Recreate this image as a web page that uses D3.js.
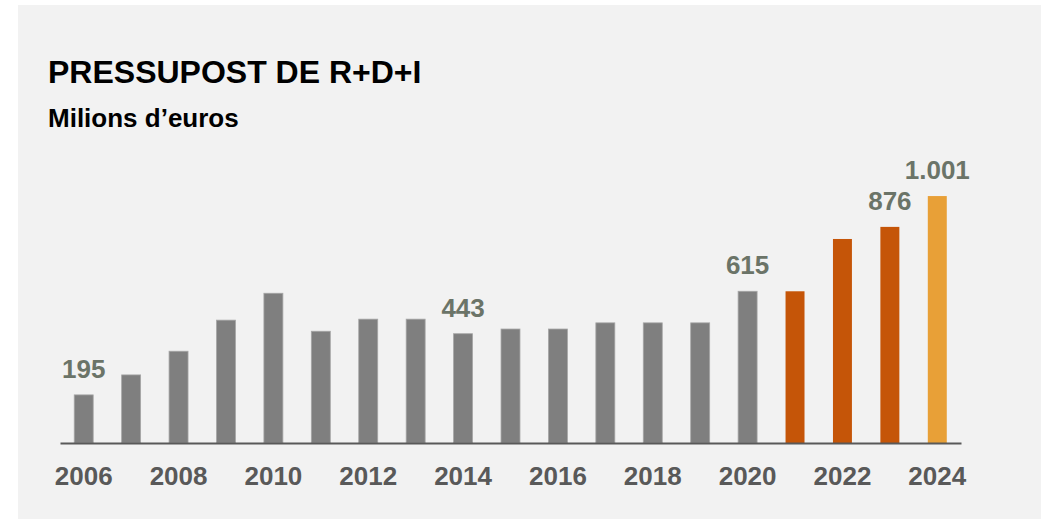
<!DOCTYPE html>
<html>
<head>
<meta charset="utf-8">
<script src="https://cdn.jsdelivr.net/npm/d3@7"></script>
<style>
  body { margin: 0; background: #fff; }
  svg text { font-family: 'Liberation Sans', Arial, sans-serif; font-weight: bold; }
</style>
</head>
<body>
<div class="chart"></div>
<script>
const years = [2006, 2007, 2008, 2009, 2010, 2011, 2012, 2013, 2014, 2015, 2016, 2017, 2018, 2019, 2020, 2021, 2022, 2023, 2024]
const values = [195, 276, 372, 498, 607, 453, 502, 502, 443, 462, 462, 487, 487, 487, 615, 615, 827, 876, 1001]
const barColors = ['#7f7f7f', '#7f7f7f', '#7f7f7f', '#7f7f7f', '#7f7f7f', '#7f7f7f', '#7f7f7f', '#7f7f7f', '#7f7f7f', '#7f7f7f',
  '#7f7f7f', '#7f7f7f', '#7f7f7f', '#7f7f7f', '#7f7f7f', '#c55508', '#c55508', '#c55508', '#e8a037']
const labelledYears = [2006, 2014, 2020, 2023, 2024]
const tickYears = [2006, 2008, 2010, 2012, 2014, 2016, 2018, 2020, 2022, 2024]

const width = 1050
const height = 521
const fmt = v => d3.format(',')(v).replace(/,/g, '.')

const dataset = years.map((y, i) => ({ year: y, value: values[i], color: barColors[i] }))

let svg = d3.select('.chart')
  .append('svg')
  .attr('width', width)
  .attr('height', height)

svg.append('rect')
  .attr('x', 18)
  .attr('y', 5)
  .attr('width', 1023)
  .attr('height', 514)
  .attr('fill', '#f2f2f2')

svg.append('text')
  .attr('x', 48)
  .attr('y', 83)
  .attr('font-size', 32)
  .attr('fill', '#000')
  .text('PRESSUPOST DE R+D+I')

svg.append('text')
  .attr('x', 48)
  .attr('y', 127)
  .attr('font-size', 26)
  .attr('fill', '#000')
  .text('Milions d\u2019euros')

let xScale = d3.scaleBand()
  .domain(years)
  .range([60, 961])
  .paddingInner(0.6)
  .paddingOuter(0.3)

let yScale = d3.scaleLinear()
  .domain([0, 1000])
  .range([443, 196.3])

svg.selectAll('.bar')
  .data(dataset)
  .enter()
  .append('rect')
  .attr('class', 'bar')
  .attr('x', d => xScale(d.year))
  .attr('y', d => yScale(d.value))
  .attr('width', xScale.bandwidth())
  .attr('height', d => yScale(0) - yScale(d.value))
  .attr('fill', d => d.color)
  .attr('stroke', d => d.color === '#7f7f7f' ? '#a6a6a6' : 'none')
  .attr('stroke-width', 0.8)

// baseline
const xAxis = d3.axisBottom(xScale)
  .tickValues(tickYears)
  .tickSize(0)
  .tickPadding(24)

let axisG = svg.append('g')
  .attr('transform', 'translate(0,' + yScale(0) + ')')
  .call(xAxis)

axisG.select('.domain')
  .attr('stroke', '#595959')
  .attr('stroke-width', 2)

axisG.selectAll('text')
  .attr('font-size', 26)
  .attr('font-family', "'Liberation Sans', Arial, sans-serif")
  .attr('font-weight', 'bold')
  .attr('fill', '#595959')

svg.selectAll('.val')
  .data(dataset.filter(d => labelledYears.includes(d.year)))
  .enter()
  .append('text')
  .attr('class', 'val')
  .attr('x', d => xScale(d.year) + xScale.bandwidth() / 2)
  .attr('y', d => yScale(d.value) - 17)
  .attr('text-anchor', 'middle')
  .attr('font-size', 26)
  .attr('fill', '#6b7468')
  .text(d => fmt(d.value))
</script>
</body>
</html>
